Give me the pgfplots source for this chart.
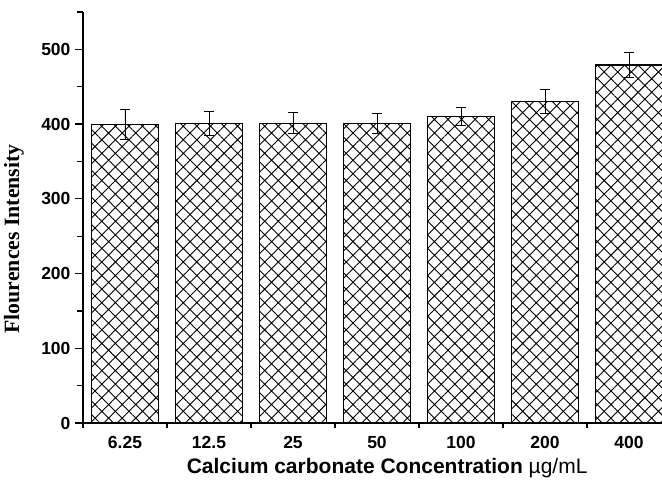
\documentclass[border=0pt]{standalone}
\usepackage{pgfplots}
\pgfplotsset{compat=1.18}
\usetikzlibrary{patterns.meta}
\usepackage{fontspec}
\setmainfont{Liberation Sans}
\newfontfamily\timesfont{Liberation Serif}
\begin{document}
\begin{tikzpicture}
\clip (0,0) rectangle (662pt,486pt);
\begin{axis}[
  at={(83pt,63pt)}, anchor=south west,
  scale only axis, width=583.8pt, height=411pt,
  xmin=-0.5, xmax=6.45, ymin=0, ymax=550,
  axis x line=bottom, axis y line=left,
  axis line style={-, line width=1.4pt, black},
  xtick={0,...,6},
  xticklabels={6.25,12.5,25,50,100,200,400},
  minor xtick={-0.5,0.5,...,6.5},
  ytick={0,100,...,500},
  minor ytick={50,150,...,550},
  tick align=outside,
  major tick length=8pt, minor tick length=5.5pt,
  x tick style={draw=none},
  minor x tick style={draw=black, line width=1.2pt},
  y tick style={black, line width=1.2pt},
  /pgf/number format/assume math mode=true,
  tick label style={font=\fontsize{17.5}{20}\selectfont\bfseries},
  xticklabel style={yshift=-2pt},
  yticklabel style={xshift=-1pt},
  xlabel={\textbf{Calcium carbonate Concentration} µg/mL},
  xlabel style={at={(axis description cs:0.521,0)}, anchor=center, yshift=-45pt, font=\fontsize{21}{24}\selectfont},
  ylabel={\timesfont\bfseries Flourences Intensity},
  ylabel style={at={(axis description cs:-0.1182,0.448)}, anchor=center, font=\fontsize{21.8}{24}\selectfont},
]
\addplot[ybar, bar width=0.8, draw=black, line width=1.1pt,
  pattern={Hatch[angle=45,distance=9.6pt,line width=0.9pt]},
  error bars/.cd, y dir=both, y explicit,
  error bar style={line width=0.9pt, black},
  error mark options={rotate=90, mark size=4.7pt, line width=0.9pt, black}]
coordinates {
  (0,400) +- (0,20)
  (1,401) +- (0,16)
  (2,401) +- (0,14)
  (3,401) +- (0,13)
  (4,410) +- (0,12)
  (5,430) +- (0,16)
  (6,479) +- (0,17)
};
\end{axis}
\end{tikzpicture}
\end{document}
